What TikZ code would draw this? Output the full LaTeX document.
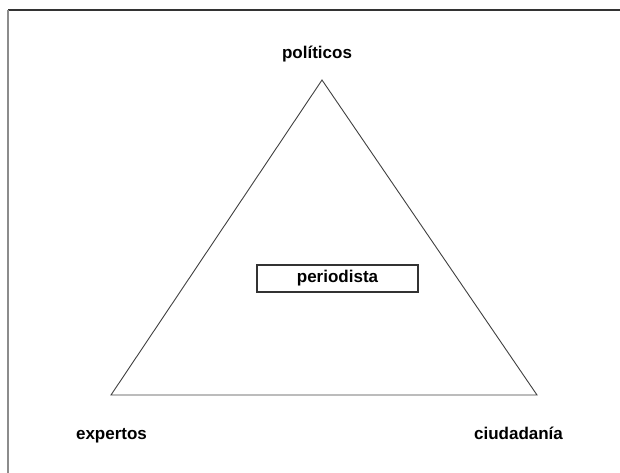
\documentclass[tikz,border=0pt]{standalone}
\usepackage{fontspec}
\setmainfont{Liberation Sans}
\usetikzlibrary{positioning}
\tikzstyle{actor} = [font=\bfseries\fontsize{17}{20}\selectfont, inner sep=0pt, anchor=base]
\tikzstyle{role} = [rectangle, draw=black!80, line width=1.2pt, minimum width=161pt, minimum height=27pt, inner sep=0pt, font=\bfseries\fontsize{17}{20}\selectfont]
\tikzstyle{side} = [draw=black!75, line width=0.9pt]

\begin{document}
\begin{tikzpicture}[x=1pt, y=-1pt]
  \useasboundingbox (0,0) rectangle (620,473);
  % frame
  \coordinate (f0) at (8,10);
  \draw [black!80, line width=2pt] (f0) -- (620,10);
  \draw [black!45, line width=2pt] (f0) -- (8,473);

  \coordinate (t1) at (322,80);
  \coordinate (t2) at (111,395);
  \coordinate (t3) at (537,395);
  \path [side] (t1) -- (t2) -- (t3) -- cycle;

  \node (pol) [actor] at (317,59) {políticos};
  \node (exp) [actor] at (111.5,439) {expertos};
  \node (ciu) [actor] at (518.5,439) {ciudadanía};
  \node (per) [role] at (337.5,278.5) {periodista};
\end{tikzpicture}
\end{document}
